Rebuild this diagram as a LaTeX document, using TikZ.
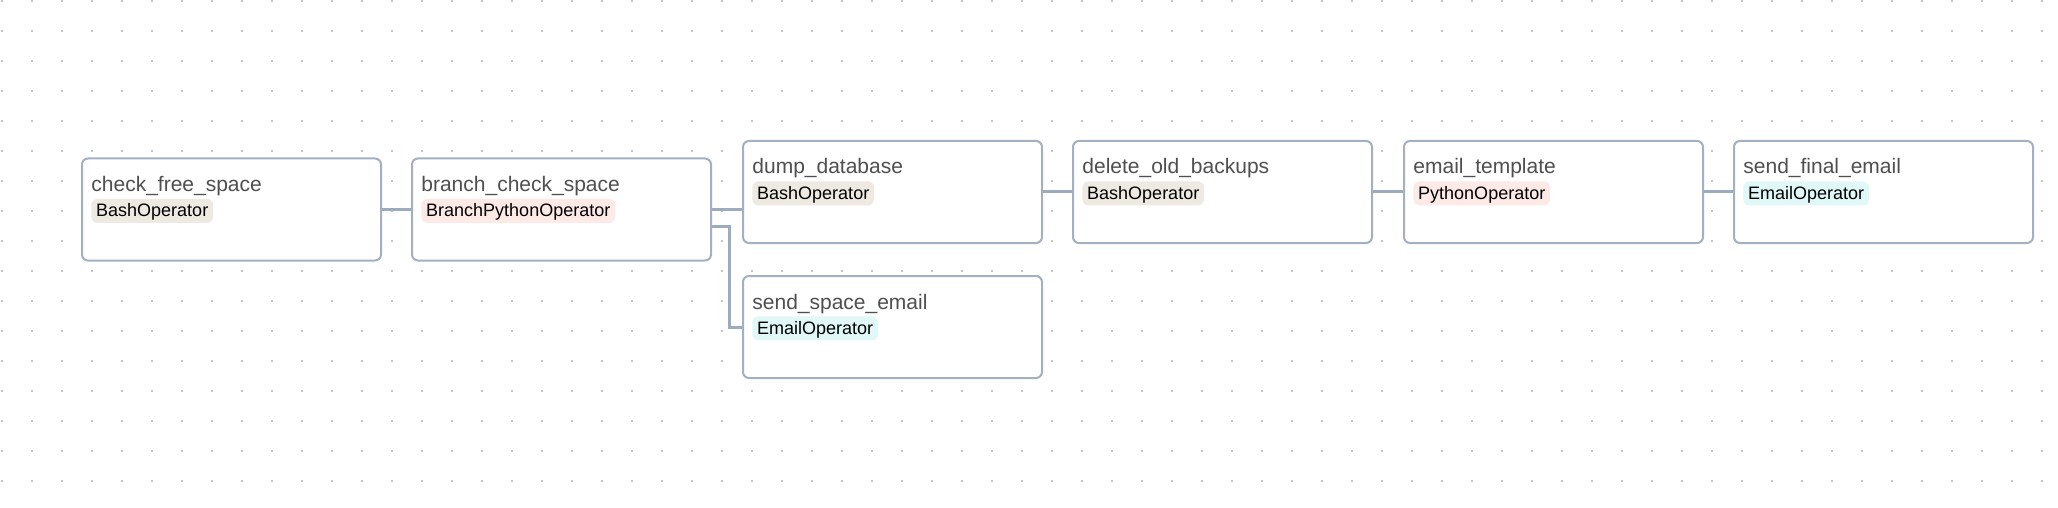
\documentclass[tikz,border=0pt]{standalone}
\usepackage{fontspec}
\setmainfont{Liberation Sans}
\usetikzlibrary{calc}
\definecolor{boxline}{HTML}{A3B0C2}
\definecolor{edgeline}{HTML}{9DABBE}
\definecolor{titletext}{HTML}{4F4F4F}
\definecolor{bashbg}{HTML}{EEEAE1}
\definecolor{pybg}{HTML}{FDEAE6}
\definecolor{mailbg}{HTML}{E0F8F8}
\definecolor{dotcol}{HTML}{C4C4C4}
\tikzset{
  taskbox/.style={draw=boxline, line width=1pt, fill=white, rounded corners=3pt,
    minimum width=149.5pt, minimum height=51pt, inner sep=0pt},
  tasktitle/.style={anchor=base west, inner sep=0pt, text=titletext,
    font=\fontsize{10.5}{12}\selectfont},
  badge/.style={anchor=north west, inner xsep=2.4pt, inner ysep=0pt, rounded corners=3pt,
    text height=8pt, text depth=2.2pt, minimum height=12pt, text=black,
    font=\fontsize{9}{10}\selectfont},
  edge/.style={draw=edgeline, line width=1.5pt},
}
\begin{document}
\begin{tikzpicture}[x=0.5pt,y=-0.5pt]
\useasboundingbox[fill=white] (0,0) rectangle (2058,508);
% dot grid
\foreach \i in {0,...,68}{
  \foreach \j in {0,...,16}{
    \fill[dotcol] ({2+30*\i-0.75},{1+30*\j-0.75}) rectangle ++(1.5,1.5);
  }
}
% boxes
\node[taskbox] (check) at (231.5,209.5) {};
\node[taskbox] (branch) at (561.5,209.5) {};
\node[taskbox] (dump) at (892.5,192) {};
\node[taskbox] (delete) at (1222.5,192) {};
\node[taskbox] (emailt) at (1553.5,192) {};
\node[taskbox] (final) at (1883.5,192) {};
\node[taskbox] (space) at (892.5,327) {};
% titles and badges
\foreach \n/\t/\b/\c in {check/check\_free\_space/BashOperator/bashbg,
                         branch/branch\_check\_space/BranchPythonOperator/pybg,
                         dump/dump\_database/BashOperator/bashbg,
                         delete/delete\_old\_backups/BashOperator/bashbg,
                         emailt/email\_template/PythonOperator/pybg,
                         final/send\_final\_email/EmailOperator/mailbg,
                         space/send\_space\_email/EmailOperator/mailbg}{
  \node[tasktitle] (\n-title) at ($(\n.north west)+(10,34)$) {\t};
  \node[badge, fill=\c] (\n-badge) at ($(\n.north west)+(10,41)$) {\b};
}
% edges
\draw[edge] (check.east) -- (branch.west);
\draw[edge] (branch.east) -- (branch.east -| dump.west);
\coordinate (bend) at ($(branch.east)+(17,17.5)$);
\draw[edge] ($(branch.east)+(0,17.5)$) -- (bend) |- (space.west);
\draw[edge] (dump.east) -- (delete.west);
\draw[edge] (delete.east) -- (emailt.west);
\draw[edge] (emailt.east) -- (final.west);
\end{tikzpicture}
\end{document}
